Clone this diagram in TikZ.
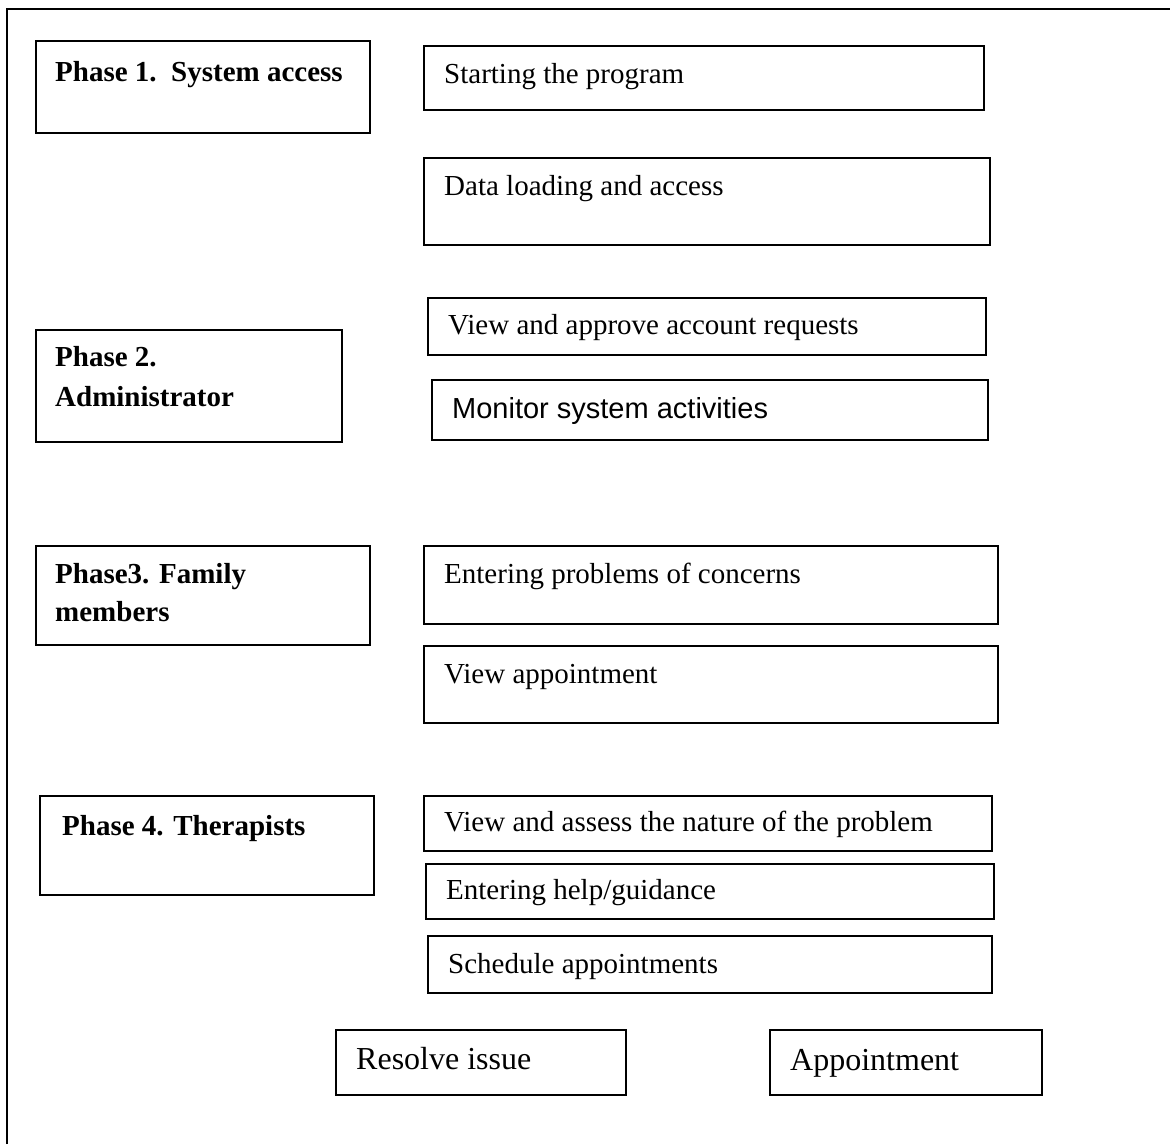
\documentclass[tikz,border=0pt]{standalone}
\usepackage{fontspec}
\setmainfont{Liberation Serif}
\newfontfamily\arialfont{Liberation Sans}
\begin{document}
\begin{tikzpicture}[x=1pt,y=-1pt,
  box/.style={draw=black, line width=1.6pt, rectangle, inner sep=0pt, anchor=north west},
  heavy/.style={line width=2.3pt},
  txt/.style={inner sep=0pt, anchor=base west, font=\fontsize{29}{36}\selectfont},
  phase/.style={txt, font=\fontsize{29}{36}\selectfont\bfseries},
  big/.style={txt, font=\fontsize{32}{38}\selectfont}]
\useasboundingbox (0,0) rectangle (1170,1144);

% open frame on the left and top
\draw[line width=2.6pt] (7,1144) -- (7,9) -- (1170,9);

% phase boxes
\node[box, heavy, minimum width=334pt, minimum height=92pt] (p1) at (35,40) {};
\node[box, minimum width=306pt, minimum height=112pt] (p2) at (35,329) {};
\node[box, minimum width=334pt, minimum height=99pt] (p3) at (35,545) {};
\node[box, heavy, minimum width=334pt, minimum height=99pt] (p4) at (39,795) {};

\node[phase] (p1t) at (55,81) {Phase 1.\ \ System access};
\node[phase] (p2a) at (55,366) {Phase 2.};
\node[phase] (p2b) at (55,406) {Administrator};
\node[phase] (p3a) at (55,583) {Phase3. Family};
\node[phase] (p3b) at (55,621) {members};
\node[phase] (p4t) at (62,835) {Phase 4. Therapists};

% task boxes
\node[box, heavy, minimum width=560pt, minimum height=64pt] (start) at (423,45) {};
\node[box, minimum width=566pt, minimum height=87pt] (data) at (423,157) {};
\node[box, minimum width=558pt, minimum height=57pt] (approve) at (427,297) {};
\node[box, minimum width=556pt, minimum height=60pt] (monitor) at (431,379) {};
\node[box, minimum width=574pt, minimum height=78pt] (concern) at (423,545) {};
\node[box, minimum width=574pt, minimum height=77pt] (viewappt) at (423,645) {};
\node[box, minimum width=568pt, minimum height=55pt] (assess) at (423,795) {};
\node[box, heavy, minimum width=568pt, minimum height=55pt] (help) at (425,863) {};
\node[box, minimum width=564pt, minimum height=57pt] (sched) at (427,935) {};
\node[box, minimum width=290pt, minimum height=65pt] (resolve) at (335,1029) {};
\node[box, heavy, minimum width=272pt, minimum height=65pt] (appt) at (769,1029) {};

\node[txt] (startt) at (444,83) {Starting the program};
\node[txt] (datat) at (444,195) {Data loading and access};
\node[txt] (approvet) at (448,334) {View and approve account requests};
\node[txt, font=\fontsize{29}{36}\selectfont\arialfont] (monitort) at (452,418) {Monitor system activities};
\node[txt] (concernt) at (444,583) {Entering problems of concerns};
\node[txt] (viewapptt) at (444,683) {View appointment};
\node[txt] (assesst) at (444,831) {View and assess the nature of the problem};
\node[txt] (helpt) at (446,899) {Entering help/guidance};
\node[txt] (schedt) at (448,973) {Schedule appointments};
\node[big] (resolvet) at (356,1069) {Resolve issue};
\node[big] (apptt) at (790,1070) {Appointment};
\end{tikzpicture}
\end{document}
